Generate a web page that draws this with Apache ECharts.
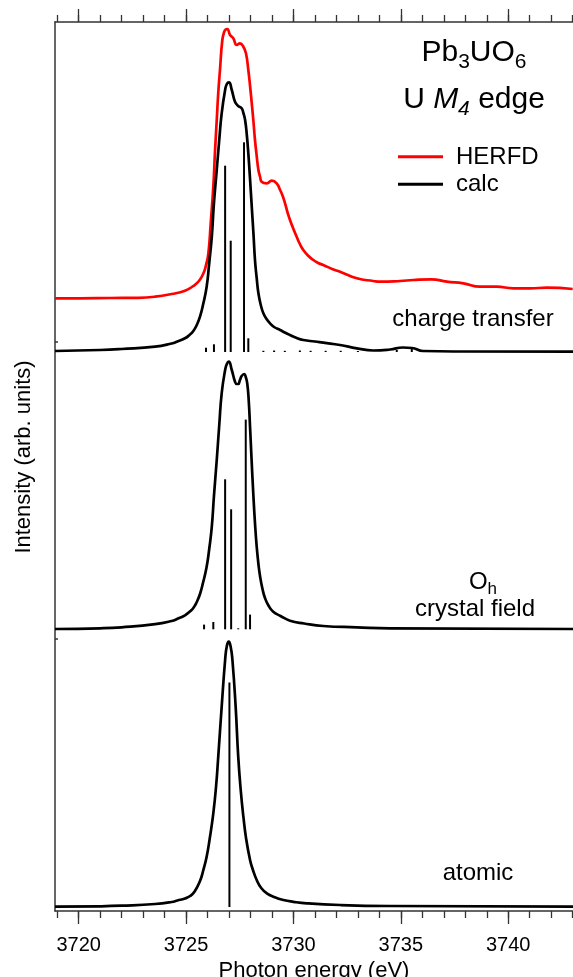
<!DOCTYPE html>
<html><head><meta charset="utf-8">
<script src="https://cdn.jsdelivr.net/npm/echarts@6/dist/echarts.min.js"></script>
<style>html,body{margin:0;padding:0;background:#fff;overflow:hidden}#c{width:573px;height:977px}</style>
</head><body><div id="c"></div>
<script>
// ---------- data ----------
const xMajorTicks = [3720, 3725, 3730, 3735, 3740];
const xMinorTicks = [3719,3720,3721,3722,3723,3724,3725,3726,3727,3728,3729,3730,3731,3732,3733,3734,3735,3736,3737,3738,3739,3740,3741,3742,3743];
const yTicks = [2.727, 5.693];

const herfdE = [3718.90,3720.07,3721.46,3722.77,3723.56,3724.33,3724.95,3725.34,3725.60,3725.81,3725.92,3726.04,3726.15,3726.27,3726.35,3726.43,3726.50,3726.58,3726.69,3726.78,3726.85,3726.92,3727.05,3727.20,3727.36,3727.51,3727.67,3727.79,3727.90,3728.00,3728.06,3728.14,3728.21,3728.29,3728.37,3728.45,3728.52,3728.76,3728.99,3729.22,3729.38,3729.50,3729.61,3729.72,3729.84,3730.00,3730.15,3730.30,3730.46,3730.70,3730.93,3731.15,3731.39,3731.80,3732.17,3732.95,3733.72,3734.03,3734.96,3735.58,3736.44,3737.14,3737.91,3738.69,3739.46,3740.24,3741.02,3741.79,3743.00];
const herfdI = [6.127,6.127,6.130,6.132,6.143,6.170,6.203,6.250,6.300,6.377,6.450,6.577,6.880,7.243,7.600,7.910,8.180,8.410,8.710,8.793,8.815,8.820,8.760,8.727,8.660,8.677,8.643,8.577,8.410,8.210,8.077,7.890,7.710,7.550,7.410,7.340,7.293,7.277,7.303,7.277,7.210,7.150,7.077,6.990,6.910,6.820,6.743,6.670,6.610,6.550,6.510,6.480,6.460,6.420,6.393,6.327,6.300,6.293,6.300,6.310,6.317,6.293,6.277,6.243,6.243,6.227,6.227,6.233,6.220];

const ctE = [3718.90,3721.00,3722.00,3723.56,3724.33,3724.60,3724.95,3725.15,3725.34,3725.50,3725.65,3725.80,3725.96,3726.08,3726.20,3726.30,3726.43,3726.55,3726.66,3726.82,3726.90,3727.00,3727.13,3727.28,3727.43,3727.59,3727.67,3727.75,3727.83,3727.90,3727.98,3728.06,3728.14,3728.21,3728.29,3728.37,3728.48,3728.60,3728.75,3728.91,3729.10,3729.38,3729.60,3729.84,3730.10,3730.46,3731.00,3731.39,3732.17,3732.95,3733.72,3734.50,3735.10,3735.52,3736.03,3737.76,3743.02];
const ctI = [5.600,5.610,5.620,5.643,5.675,5.695,5.727,5.758,5.800,5.860,5.943,6.070,6.243,6.480,6.743,7.080,7.410,7.720,7.977,8.210,8.270,8.287,8.210,8.093,8.050,8.027,7.980,7.910,7.760,7.577,7.320,7.043,6.770,6.510,6.330,6.177,6.060,5.977,5.920,5.877,5.840,5.810,5.785,5.760,5.735,5.710,5.695,5.683,5.660,5.627,5.605,5.615,5.635,5.630,5.600,5.595,5.593];
const ctBase = 5.59;
const ctStickE = [3725.93,3726.30,3726.82,3727.08,3727.70,3727.90,3728.60,3729.10,3729.60,3730.30,3730.80,3731.50,3732.20,3733.00,3734.81,3735.51];
const ctStickH = [0.043,0.077,1.863,1.113,2.097,0.137,0.012,0.015,0.012,0.015,0.012,0.012,0.012,0.010,0.020,0.040];

const ohE = [3718.90,3721.00,3722.00,3723.56,3724.33,3724.60,3724.95,3725.15,3725.34,3725.50,3725.65,3725.80,3725.96,3726.08,3726.20,3726.30,3726.43,3726.55,3726.66,3726.82,3726.90,3726.99,3727.13,3727.28,3727.36,3727.43,3727.51,3727.59,3727.71,3727.78,3727.85,3727.92,3727.98,3728.05,3728.13,3728.21,3728.29,3728.37,3728.45,3728.56,3728.68,3728.85,3729.06,3729.40,3729.84,3730.50,3731.39,3732.95,3734.50,3743.02];
const ohI = [2.820,2.827,2.837,2.868,2.900,2.922,2.957,2.990,3.030,3.090,3.170,3.290,3.443,3.620,3.843,4.150,4.510,4.870,5.177,5.410,5.470,5.493,5.410,5.293,5.270,5.270,5.310,5.350,5.370,5.340,5.277,5.100,4.843,4.520,4.177,3.880,3.643,3.470,3.343,3.220,3.127,3.050,2.993,2.950,2.903,2.875,2.850,2.837,2.827,2.820];
const ohBase = 2.817;
const ohStickE = [3725.84,3726.27,3726.82,3727.10,3727.43,3727.78,3727.98];
const ohStickH = [0.047,0.073,1.500,1.200,0.010,2.097,0.147];

const atE = [3718.90,3721.00,3722.00,3723.56,3724.33,3724.60,3724.95,3725.19,3725.40,3725.65,3725.80,3725.96,3726.10,3726.27,3726.40,3726.50,3726.66,3726.82,3726.90,3726.99,3727.08,3727.16,3727.31,3727.43,3727.55,3727.67,3727.80,3727.98,3728.10,3728.29,3728.50,3728.76,3729.10,3729.53,3730.00,3730.62,3732.17,3734.50,3743.02];
const atI = [0.043,0.047,0.053,0.070,0.090,0.105,0.125,0.150,0.195,0.300,0.405,0.543,0.720,0.977,1.250,1.543,2.043,2.510,2.650,2.693,2.640,2.510,2.043,1.543,1.200,0.943,0.720,0.510,0.420,0.310,0.230,0.177,0.140,0.110,0.092,0.077,0.060,0.050,0.043];
const atBase = 0.04;
const atStickE = [3727.02];
const atStickH = [2.245];

// ---------- chart ----------
const FONT = '"Liberation Sans", Arial, Helvetica, sans-serif';
const AX = '#333';
const XMIN = 3718.9, XMAX = 3743.015;

function pairs(E, I) { return E.map((e, i) => [e, I[i]]); }
function curve(name, E, I, color) {
  return { type: 'line', name, data: pairs(E, I), showSymbol: false, symbol: 'none',
    smooth: 0.5, lineStyle: { color, width: 2.7 }, z: 3, silent: true };
}
function sticks(name, E, H, base) {
  return { type: 'custom', name, data: E.map((e, i) => [e, base, base + H[i]]),
    encode: { x: 0, y: [1, 2] }, silent: true, z: 2,
    renderItem: (params, api) => {
      const p0 = api.coord([api.value(0), api.value(1)]);
      const p1 = api.coord([api.value(0), api.value(2)]);
      return { type: 'line', shape: { x1: p0[0], y1: p0[1], x2: p1[0], y2: p1[1] },
        style: { stroke: '#000', lineWidth: 2 } };
    } };
}

const ctx2d = document.createElement('canvas').getContext('2d');
function fontStr(p) { return (p.italic ? 'italic ' : '') + p.size + 'px ' + FONT; }
function textEl(t, x, y, size, italic, align) {
  const f = fontStr({ size, italic });
  return { type: 'text', x: x, y: y, silent: true,
    style: { text: t, font: f, fill: '#000', align: align || 'left', textAlign: align || 'left',
      verticalAlign: 'middle', textVerticalAlign: 'middle' } };
}
function runs(parts, cx, baseline) {
  const widths = parts.map(p => { ctx2d.font = fontStr(p); return ctx2d.measureText(p.t).width; });
  const total = widths.reduce((a, b) => a + b, 0);
  let x = cx - total / 2;
  return parts.map((p, i) => {
    const el = textEl(p.t, x, baseline + (p.dy || 0) - 0.31 * p.size, p.size, p.italic, 'left');
    x += widths[i];
    return el;
  });
}

const graphics = [].concat(
  runs([{ t: 'Pb', size: 30 }, { t: '3', size: 21, dy: 7 }, { t: 'UO', size: 30 }, { t: '6', size: 21, dy: 7 }], 474, 61.7),
  runs([{ t: 'U ', size: 30 }, { t: 'M', size: 30, italic: true }, { t: '4', size: 21, italic: true, dy: 6 }, { t: ' edge', size: 30 }], 474, 109.3),
  [
    { type: 'line', shape: { x1: 398, y1: 156.7, x2: 443, y2: 156.7 }, style: { stroke: '#ff0000', lineWidth: 3 }, silent: true },
    { type: 'line', shape: { x1: 398, y1: 184.3, x2: 443, y2: 184.3 }, style: { stroke: '#000', lineWidth: 3 }, silent: true },
    textEl('HERFD', 456, 165 - 0.31 * 24, 24),
    textEl('calc', 456, 191.7 - 0.31 * 24, 24),
    textEl('charge transfer', 473, 326.7 - 0.31 * 24, 24, false, 'center'),
    textEl('crystal field', 475, 617 - 0.31 * 24, 24, false, 'center'),
    textEl('atomic', 478, 881 - 0.31 * 24, 24, false, 'center'),
    { type: 'text', x: 24, y: 457, rotation: Math.PI / 2, silent: true,
      style: { text: 'Intensity (arb. units)', font: '22px ' + FONT, fill: '#000',
        align: 'center', textAlign: 'center', verticalAlign: 'middle', textVerticalAlign: 'middle' } }
  ],
  runs([{ t: 'O', size: 24 }, { t: 'h', size: 17, dy: 5 }], 483, 590)
);

function xAx(pos, major) {
  return { type: 'value', min: XMIN, max: XMAX, position: pos,
    axisLine: { show: major, onZero: false, lineStyle: { color: AX, width: 1.5 } },
    axisTick: { show: true, inside: false, length: major ? 13 : 7, customValues: major ? xMajorTicks : xMinorTicks,
      lineStyle: { color: AX, width: 1.3 } },
    axisLabel: (pos === 'bottom' && major) ? { show: true, customValues: xMajorTicks, fontSize: 20, fontFamily: FONT, color: '#000', margin: 24,
      formatter: v => String(v) } : { show: false },
    splitLine: { show: false },
    name: (pos === 'bottom' && major) ? 'Photon energy (eV)' : '',
    nameLocation: 'middle', nameGap: 49,
    nameTextStyle: { fontSize: 22, fontFamily: FONT, color: '#000' } };
}

const option = {
  animation: false,
  backgroundColor: '#fff',
  grid: { left: 55, right: 0, top: 22, bottom: 66, containLabel: false, outerBoundsMode: 'none' },
  xAxis: [xAx('bottom', true), xAx('bottom', false), xAx('top', true), xAx('top', false)],
  yAxis: { type: 'value', min: 0, max: 8.89, position: 'left',
    axisLine: { show: true, onZero: false, lineStyle: { color: AX, width: 1.5 } },
    axisTick: { show: true, inside: true, length: 3, customValues: yTicks, lineStyle: { color: AX, width: 1.5 } },
    axisLabel: { show: false }, splitLine: { show: false } },
  series: [
    curve('HERFD', herfdE, herfdI, '#ff0000'),
    curve('calc charge transfer', ctE, ctI, '#000'),
    sticks('sticks charge transfer', ctStickE, ctStickH, ctBase),
    curve('calc crystal field', ohE, ohI, '#000'),
    sticks('sticks crystal field', ohStickE, ohStickH, ohBase),
    curve('calc atomic', atE, atI, '#000'),
    sticks('sticks atomic', atStickE, atStickH, atBase)
  ],
  graphic: graphics
};
const chart = echarts.init(document.getElementById('c'), null, { renderer: 'canvas' });
chart.setOption(option);
</script>
</body></html>
